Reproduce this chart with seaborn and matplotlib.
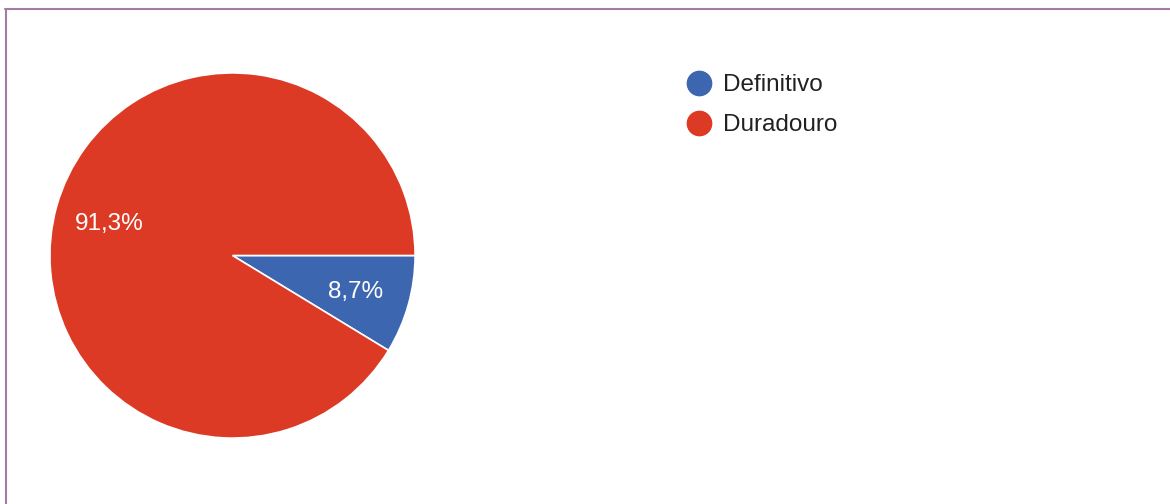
import matplotlib
matplotlib.use("Agg")
import matplotlib.pyplot as plt
from matplotlib.lines import Line2D
import seaborn as sns

# Response shares (percent)
categories = ["Definitivo", "Duradouro"]
shares = [8.7, 91.3]
slice_colors = ["#3d66b1", "#dc3a24"]

sns.set_theme(style="white")
plt.rcParams["font.family"] = ["Liberation Sans", "DejaVu Sans"]
palette = sns.color_palette(slice_colors)

W, H, DPI = 1170, 504, 100
fig = plt.figure(figsize=(W / DPI, H / DPI), dpi=DPI)
fig.patch.set_facecolor("white")

# Pie area placed in pixel terms: centre (232.5, 255.5), radius 183.5
cx, cy, r = 232.5, 255.5, 183.5
ax = fig.add_axes([(cx - r) / W, (H - cy - r) / H, 2 * r / W, 2 * r / H])


def fmt(p):
    return f"{p:.1f}".replace(".", ",") + "%"


wedges, texts, autotexts = ax.pie(
    shares,
    colors=palette,
    startangle=0,
    counterclock=False,
    autopct=fmt,
    pctdistance=0.70,
    wedgeprops=dict(edgecolor="white", linewidth=1.2),
    textprops=dict(color="white", fontsize=17.5),
)
for t in autotexts:
    t.set_verticalalignment("center_baseline")
ax.set_xlim(-1.005, 1.005)
ax.set_ylim(-1.005, 1.005)
ax.axis("off")

# Legend with round markers
handles = [
    Line2D([0], [0], marker="o", linestyle="none", markersize=17.5,
           markerfacecolor=c, markeredgecolor=c)
    for c in palette
]
leg = fig.legend(
    handles, categories,
    loc="upper left",
    bbox_to_anchor=(687 / W, 1 - 74 / H),
    frameon=False,
    fontsize=17.5,
    handletextpad=0.5,
    labelspacing=0.75,
    borderaxespad=0,
    borderpad=0,
    handlelength=1.0,
)
for t in leg.get_texts():
    t.set_color("#212121")

# Frame lines on the left and top
lc = "#a57ba6"
fig.add_artist(Line2D([5.5 / W, 5.5 / W], [0, 1 - 8.5 / H],
                      transform=fig.transFigure, color=lc, linewidth=1.5))
fig.add_artist(Line2D([4.8 / W, 1], [1 - 8.5 / H, 1 - 8.5 / H],
                      transform=fig.transFigure, color=lc, linewidth=1.5))

fig.savefig("out.png", dpi=DPI, facecolor="white")
